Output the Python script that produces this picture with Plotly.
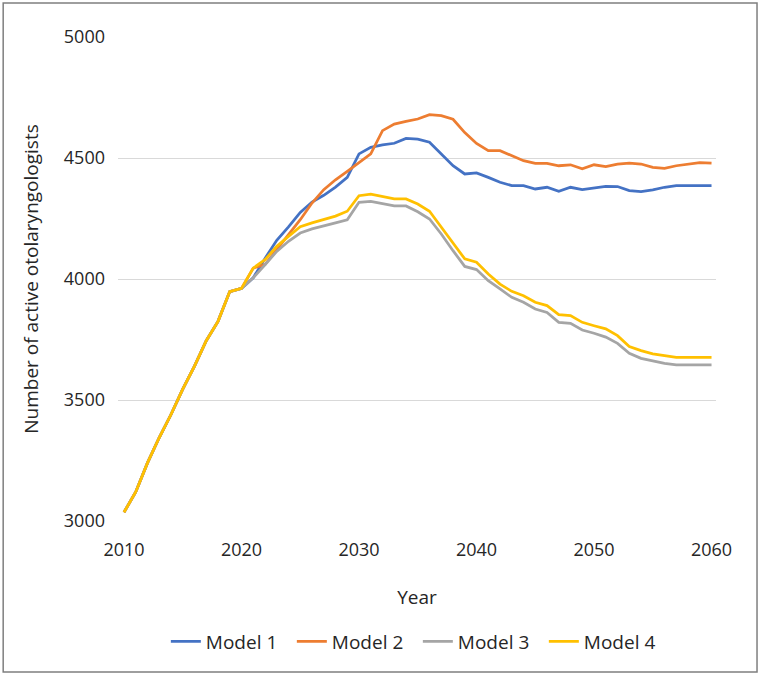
import plotly.graph_objects as go

years = list(range(2010, 2061))

common = [3036, 3120, 3240, 3345, 3440, 3545, 3640, 3745, 3825, 3948, 3961]

model1 = common + [4005, 4085, 4160, 4215, 4275, 4318, 4346, 4380, 4420, 4517,
                   4544, 4554, 4561, 4581, 4578, 4565, 4517, 4468, 4434, 4438,
                   4420, 4400, 4386, 4386, 4372, 4379, 4362, 4379, 4369, 4376,
                   4383, 4382, 4365, 4361, 4368, 4379, 4386, 4386, 4386, 4386]
model2 = common + [4045, 4060, 4120, 4183, 4245, 4314, 4369, 4410, 4445, 4480,
                   4517, 4613, 4640, 4651, 4661, 4679, 4675, 4660, 4605, 4560,
                   4530, 4530, 4510, 4489, 4478, 4478, 4468, 4472, 4455, 4472,
                   4464, 4475, 4479, 4475, 4461, 4457, 4468, 4475, 4481, 4479]
model3 = common + [4005, 4059, 4114, 4156, 4190, 4207, 4218, 4232, 4245, 4317,
                   4321, 4313, 4302, 4302, 4278, 4248, 4186, 4117, 4052, 4039,
                   3993, 3959, 3924, 3904, 3876, 3862, 3821, 3817, 3789, 3776,
                   3760, 3734, 3693, 3672, 3661, 3651, 3645, 3645, 3645, 3645]
model4 = common + [4045, 4080, 4135, 4176, 4216, 4232, 4246, 4260, 4280, 4344,
                   4351, 4340, 4331, 4331, 4310, 4280, 4214, 4152, 4083, 4069,
                   4021, 3979, 3949, 3931, 3904, 3890, 3853, 3849, 3821, 3807,
                   3794, 3766, 3721, 3704, 3691, 3683, 3676, 3676, 3676, 3676]

names = ["Model 1", "Model 2", "Model 3", "Model 4"]
colors = ["#4472C4", "#ED7D31", "#A5A5A5", "#FFC000"]
series = [model1, model2, model3, model4]

x_ticks = [2010, 2020, 2030, 2040, 2050, 2060]
y_ticks = [3000, 3500, 4000, 4500, 5000]

FONT = "Open Sans"
TXT = "#262626"

fig = go.Figure()
for n, c, s in zip(names, colors, series):
    fig.add_trace(go.Scatter(x=years, y=s, name=n, mode="lines",
                             line=dict(color=c, width=2.75)))

fig.update_layout(
    width=760, height=675,
    margin=dict(l=118, r=44, t=37, b=154, autoexpand=False),
    paper_bgcolor="white", plot_bgcolor="white",
    font=dict(family=FONT, size=18, color=TXT),
    showlegend=True,
    legend=dict(orientation="h", x=0.08, xanchor="left", y=-0.21, yanchor="top",
                entrywidth=81, entrywidthmode="pixels", bgcolor="rgba(0,0,0,0)",
                font=dict(family=FONT, size=19, color=TXT)),
    xaxis=dict(range=[2009.49, 2060.38], tickvals=x_ticks, ticktext=[str(v) for v in x_ticks],
               showgrid=False, zeroline=False, showline=False, ticks="", automargin=False,
               ticklabelstandoff=16,
               tickfont=dict(size=18, color=TXT),
               title=dict(text="Year", font=dict(size=19, color=TXT), standoff=30)),
    yaxis=dict(range=[3000, 5000], tickvals=y_ticks, ticktext=[str(v) for v in y_ticks],
               showgrid=True, gridcolor="#D9D9D9", gridwidth=1, zeroline=False,
               showline=False, ticks="", ticklabelstandoff=12, automargin=False,
               tickfont=dict(size=18, color=TXT),
               title=dict(text="Number of active otolaryngologists",
                          font=dict(size=19, color=TXT), standoff=20)),
)

fig.add_shape(type="rect", xref="paper", yref="paper",
              x0=-0.192, x1=1.0686, y0=-0.312, y1=1.0702,
              line=dict(color="#7F7F7F", width=1.5), fillcolor="rgba(0,0,0,0)", layer="below")

fig.write_html("out.html", config={"displayModeBar": False},
               post_script="document.body.style.margin='0px';")
